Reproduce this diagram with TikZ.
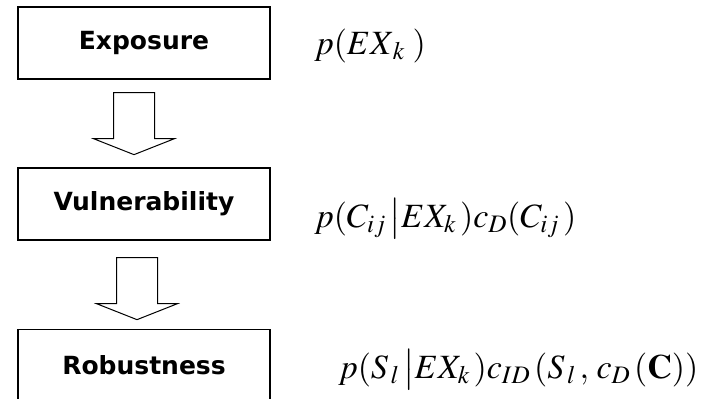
\documentclass[tikz,border=0pt]{standalone}
\usepackage{mathptmx}
\usepackage[no-math]{fontspec}
\usepackage{tikz}
\usetikzlibrary{calc}
\newfontfamily\boxfont{DejaVu Sans}

\begin{document}
\begin{tikzpicture}[x=1pt,y=-1pt,
 box/.style={draw=black,line width=1.3pt,fill=white,minimum width=252pt,
 minimum height=72pt,inner sep=0pt,font=\boxfont\bfseries\fontsize{25}{30}\selectfont},
 formula/.style={anchor=base west,inner sep=0pt,font=\fontsize{34}{39}\selectfont},
 blockarrow/.style={draw=black,line width=1pt,fill=white,line join=miter}]
\useasboundingbox (0,0) rectangle (715,399);
\node[box] (ex) at (144,43) {Exposure};
\node[box] (vu) at (144,204) {Vulnerability};
\node[box] (ro) at (144,365.5) {Robustness};
\node[formula] (pex) at (314,54) {$p(EX_{\,k}\,\,)$};
\node[formula] (pvu) at (314,227) {$p(C_{ij}\,\big|EX_{k}\,)c_{D}(C_{ij}\,)$};
\node[formula] (pro) at (338,378)
 {$p(S_{\,l}\,\big|EX_{k}\,)c_{ID}\,(S_{\,l}\,,\,c_{D}\,(\mathbf{C}))$};
\foreach \a/\dx/\dy in {ex/-10/13,vu/-7/17}{
 \draw[blockarrow] ($(\a.south)+(\dx-20.5,\dy)$) -- ++(41,0) -- ++(0,46)
 -- ++(20,0) -- ++(-40.5,16) -- ++(-40.5,-16) -- ++(20,0) -- cycle;}
\end{tikzpicture}
\end{document}
